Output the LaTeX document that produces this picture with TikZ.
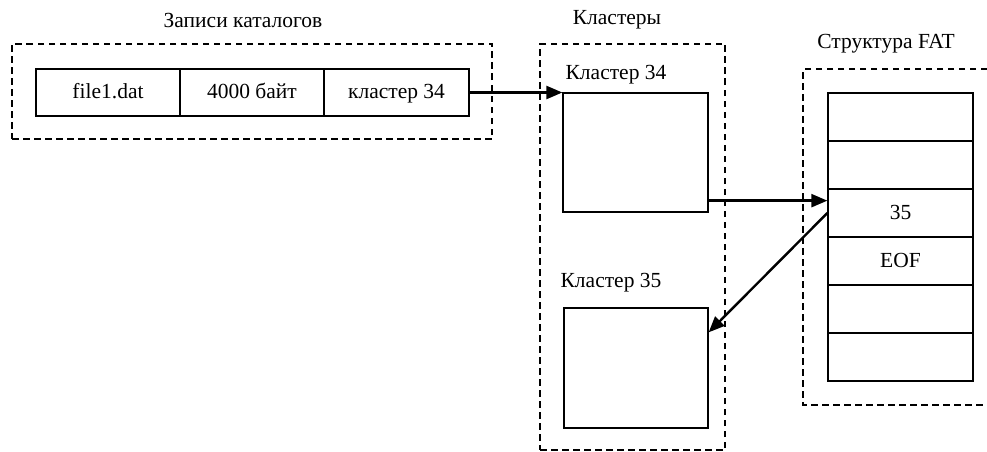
\documentclass[tikz,border=0pt]{standalone}
\usepackage{fontspec}
\setmainfont{Liberation Serif}
\usetikzlibrary{arrows.meta}
\begin{document}
\begin{tikzpicture}[x=1pt,y=-1pt,
  txt/.style={font=\fontsize{21.5}{25}\selectfont, inner sep=0pt},
  cell/.style={draw, line width=1.3pt, inner sep=0pt, font=\fontsize{21.5}{25}\selectfont, text height=15pt, text depth=3pt},
  frame/.style={draw, line width=1.3pt, dash pattern=on 6.5pt off 4.5pt, inner sep=0pt},
  box/.style={draw, line width=1.3pt, inner sep=0pt, minimum width=145pt, minimum height=119pt},
  link/.style={line width=2.4pt, -{Triangle[length=16pt,width=13pt]}}
]
\path[use as bounding box] (0,0) rectangle (987,452);

% Directory entries
\node[frame, minimum width=480pt, minimum height=95pt] (fr1) at (252,91.5) {};
\node[txt] (t1) at (243,20) {Записи каталогов};
\node[cell, minimum width=144pt, minimum height=47pt] (c1) at (108,92.5) {file1.dat};
\node[cell, minimum width=144pt, minimum height=47pt] (c2) at (252,92.5) {4000 байт};
\node[cell, minimum width=145pt, minimum height=47pt] (c3) at (396.5,92.5) {кластер 34};

% Clusters
\node[frame, minimum width=185pt, minimum height=406pt] (fr2) at (632.5,247) {};
\node[txt] (t2) at (617,20) {Кластеры};
\node[txt] (l34) at (616,75) {Кластер 34};
\node[box] (k34) at (635.5,152.5) {};
\node[txt] (l35) at (611,283) {Кластер 35};
\node[box, minimum width=144pt, minimum height=120pt] (k35) at (636,368) {};

% FAT
\node[txt] (t3) at (886,44) {Структура FAT};
\draw[line width=1.3pt, dash pattern=on 6.5pt off 4.5pt] (987,69) -- (803,69) -- (803,405) -- (987,405);
\node[cell, minimum width=145pt, minimum height=48pt] (f1) at (900.5,117) {};
\node[cell, minimum width=145pt, minimum height=48pt] (f2) at (900.5,165) {};
\node[cell, minimum width=145pt, minimum height=48pt] (f3) at (900.5,213) {35};
\node[cell, minimum width=145pt, minimum height=48pt] (f4) at (900.5,261) {EOF};
\node[cell, minimum width=145pt, minimum height=48pt] (f5) at (900.5,309) {};
\node[cell, minimum width=145pt, minimum height=48pt] (f6) at (900.5,357) {};

% Links
\draw[link] (c3.east) -- (c3.east -| k34.west);
\coordinate (s2) at ([yshift=12pt]k34.south east);
\draw[link] (s2) -- (s2 -| f3.west);
\draw[link] (f3.west) -- ([yshift=-25pt]k35.north east);
\end{tikzpicture}
\end{document}
